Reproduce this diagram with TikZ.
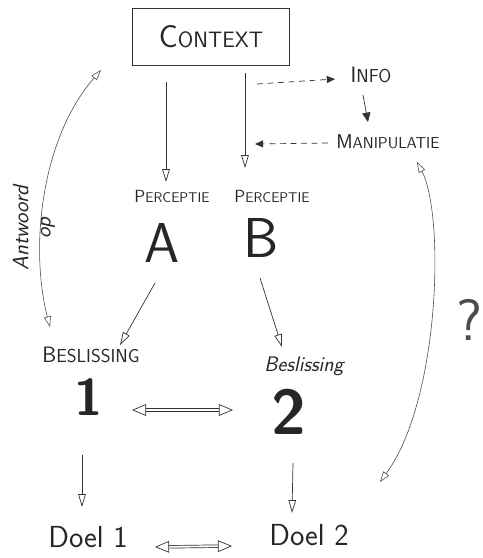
\documentclass[tikz,border=0pt]{standalone}
\usetikzlibrary{arrows.meta,positioning,calc}
\newcommand{\capword}[4]{{\fontsize{#1}{#1}\selectfont #3}{\fontsize{#2}{#2}\selectfont #4}}
\begin{document}
\begin{tikzpicture}[x=0.03cm,y=-0.03cm,
  word/.style={font=\sffamily,inner sep=1pt,text=black!85},
  pen/.style={draw=black!80,line width=0.6pt},
  opentip/.style={pen,-{Triangle[open,length=11pt,width=6.5pt]}},
  dashtip/.style={pen,dash pattern=on 5pt off 4pt,-{Triangle[length=7pt,width=6pt]}},
  bothtip/.style={pen,double,double distance=1.6pt,{Triangle[open,length=12pt,width=10pt]}-{Triangle[open,length=12pt,width=10pt]}},
  looptip/.style={draw=black!70,line width=0.5pt,{Triangle[open,length=9pt,width=6pt]}-{Triangle[open,length=9pt,width=6pt]}}]
  \useasboundingbox (0,0) rectangle (483,558);
  \node[word,draw=black!80,line width=0.9pt,minimum width=4.71cm,minimum height=1.71cm] (ctx) at (211,37) {\capword{27}{19}{C}{ONTEXT}};
  \node[word] (info) at (371,75) {\capword{19}{16}{I}{NFO}};
  \node[word] (manip) at (388,142) {\capword{17}{13.5}{M}{ANIPULATIE}};
  \node[word] (percA) at (172,196) {\capword{15}{12}{P}{ERCEPTIE}};
  \node[word] (percB) at (272,196) {\capword{15}{12}{P}{ERCEPTIE}};
  \node[word,font=\sffamily\fontsize{48}{48}\selectfont] (letA) at (162,243) {A};
  \node[word,font=\sffamily\fontsize{48}{48}\selectfont] (letB) at (261,238) {B};
  \node[word] (besA) at (91,355) {\capword{19}{16}{B}{ESLISSING}};
  \node[word,font=\sffamily\itshape\fontsize{18}{18}\selectfont] (besB) at (304,366) {Beslissing};
  \node[word,font=\sffamily\bfseries\fontsize{44}{44}\selectfont] (numA) at (89,397) {1};
  \node[word,font=\sffamily\bfseries\fontsize{54}{54}\selectfont] (numB) at (289,412) {2};
  \node[word,font=\sffamily\fontsize{26}{26}\selectfont] (doelA) at (88,537) {Doel 1};
  \node[word,font=\sffamily\fontsize{26}{26}\selectfont] (doelB) at (309,535) {Doel 2};
  \node[word,font=\sffamily\itshape\fontsize{19}{19}\selectfont,rotate=90,align=center] (ant) at (34,228) {Antwoord\\op};
  \node[word,font=\sffamily\fontsize{50}{50}\selectfont,text=black!70] (quest) at (469,320) {?};
  \draw[opentip] ($(ctx)+(-45,45)$) -- ($(percA)+(-6,-14)$);
  \draw[opentip] ($(ctx)+(34,36)$) -- ($(percB)+(-27,-28)$);
  \draw[dashtip] ($(ctx)+(46,47)$) -- ($(info)+(-36,4)$);
  \draw[pen,-{Triangle[length=8pt,width=7pt]}] ($(info)+(-8,20)$) -- ($(manip)+(-20,-20)$);
  \draw[dashtip] ($(manip)+(-60,1)$) -- ($(percB)+(-17,-52)$);
  \draw[opentip] ($(letA)+(-7,40)$) -- ($(besA)+(29,-10)$);
  \draw[opentip] ($(letB)+(-1,40)$) -- ($(besB)+(-22,-19)$);
  \draw[bothtip] ($(numA)+(43,13)$) -- ($(numB)+(-56,-2)$);
  \draw[opentip] ($(numA)+(-7,58)$) -- ($(doelA)+(-6,-30)$);
  \draw[opentip] ($(numB)+(4,51)$) -- ($(doelB)+(-17,-22)$);
  \draw[bothtip] ($(doelA)+(67,10)$) -- ($(doelB)+(-77,11)$);
  \draw[looptip] ($(besA)+(-41,-28)$) .. controls (30,250) and (40,140) .. ($(ctx)+(-110,33)$);
  \draw[looptip] ($(manip)+(29,20)$) .. controls (445,215) and (440,400) .. ($(numB)+(91,70)$);
\end{tikzpicture}
\end{document}
